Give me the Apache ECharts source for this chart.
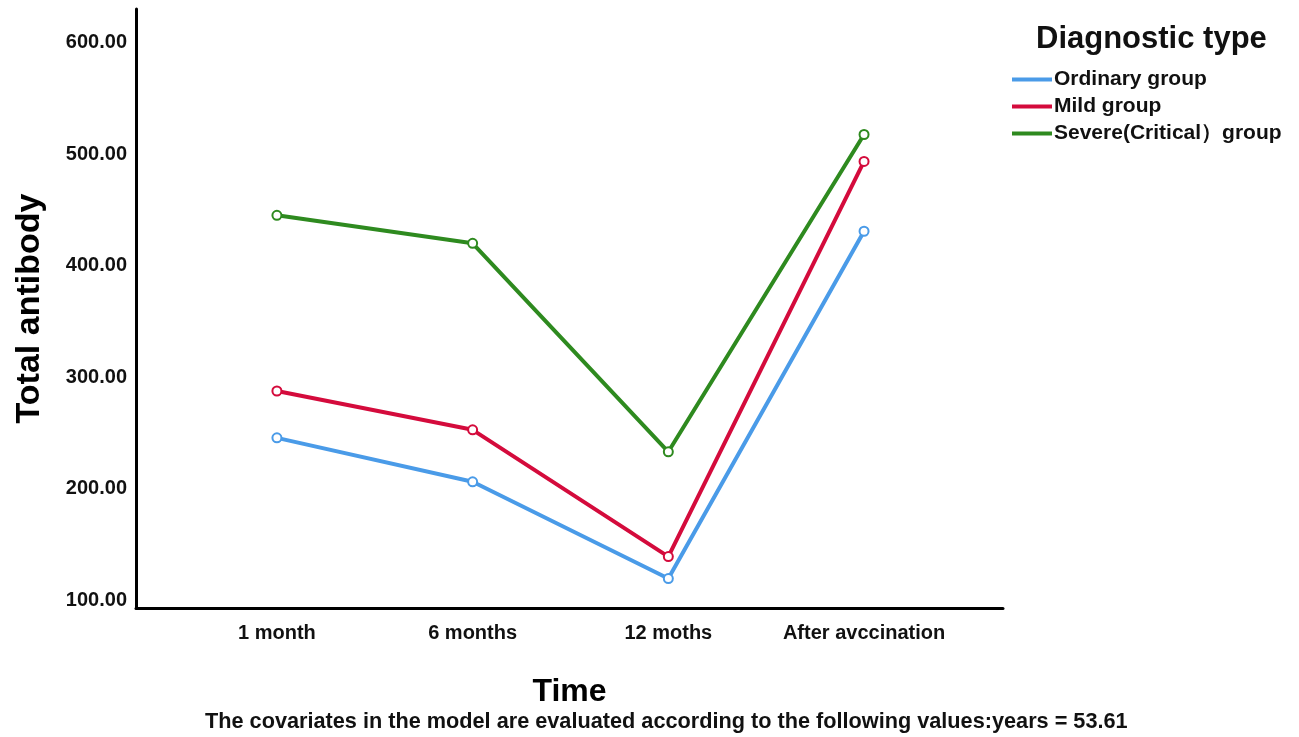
<!DOCTYPE html>
<html><head><meta charset="utf-8">
<script src="https://cdn.jsdelivr.net/npm/echarts@6/dist/echarts.min.js"></script>
<style>html,body{margin:0;padding:0;background:#fff}#c{width:1299px;height:737px}</style>
</head><body><div id="c"></div>
<script>
const categories = ['1 month', '6 months', '12 moths', 'After avccination'];
const ordinary = [245.8, 206.4, 119.7, 431.0];
const mild = [287.8, 253.0, 139.4, 493.6];
const severe = [445.3, 420.2, 233.3, 517.7];
const yTicks = [100, 200, 300, 400, 500, 600];
const seriesNames = ['Ordinary group', 'Mild group', 'Severe(Critical\uFF09group'];
const colors = ['#4A9BE8', '#D40B3C', '#2E8A1F'];

const font = 'Liberation Sans, Arial, sans-serif';
const toPairs = arr => arr.map((v, i) => [i, v]);
const mk = (name, data, color) => ({
  name, type: 'line', data: toPairs(data),
  symbol: 'emptyCircle', symbolSize: 9,
  lineStyle: { color, width: 4 },
  itemStyle: { color, borderWidth: 1.5 },
  emphasis: { disabled: true }
});
const chart = echarts.init(document.getElementById('c'));
chart.setOption({
  animation: false,
  backgroundColor: '#fff',
  color: colors,
  grid: { left: 136, right: 296, top: 9, bottom: 129, containLabel: false, outerBoundsMode: 'none' },
  title: {
    text: 'Diagnostic type', left: 1031, top: 19,
    textStyle: { fontFamily: font, fontWeight: 'bold', fontSize: 31, color: '#111' }
  },
  legend: {
    orient: 'vertical', left: 1007, top: 64, itemGap: 6,
    icon: 'rect', itemWidth: 40, itemHeight: 4,
    textStyle: { fontFamily: font, fontWeight: 'bold', fontSize: 21, color: '#111', padding: [0, 0, 0, -3] },
    data: seriesNames
  },
  xAxis: {
    type: 'value', min: -0.72, max: 3.71,
    name: 'Time', nameLocation: 'middle', nameGap: 68,
    nameTextStyle: { fontFamily: font, fontWeight: 'bold', fontSize: 32, color: '#000' },
    axisLine: { show: true, onZero: false, lineStyle: { color: '#000', width: 3 } },
    axisTick: { show: false },
    splitLine: { show: false },
    axisLabel: {
      customValues: [0, 1, 2, 3], margin: 15,
      formatter: v => categories[Math.round(v)] || '',
      fontFamily: font, fontWeight: 'bold', fontSize: 20, color: '#111'
    }
  },
  yAxis: {
    type: 'value', min: 93.3, max: 630.2,
    name: 'Total antibody', nameLocation: 'middle', nameGap: 89, nameRotate: 90,
    nameTextStyle: { fontFamily: font, fontWeight: 'bold', fontSize: 34, color: '#000' },
    axisLine: { show: true, onZero: false, lineStyle: { color: '#000', width: 3 } },
    axisTick: { show: false },
    splitLine: { show: false },
    axisLabel: {
      customValues: yTicks, margin: 9,
      formatter: v => v.toFixed(2),
      fontFamily: font, fontWeight: 'bold', fontSize: 20, color: '#111'
    }
  },
  graphic: [{
    type: 'text', left: 205, top: 711,
    style: {
      text: 'The covariates in the model are evaluated according to the following values:years = 53.61',
      font: 'bold 21.7px ' + font, fill: '#111'
    }
  }],
  series: [
    mk(seriesNames[0], ordinary, colors[0]),
    mk(seriesNames[1], mild, colors[1]),
    mk(seriesNames[2], severe, colors[2])
  ]
});
</script></body></html>
